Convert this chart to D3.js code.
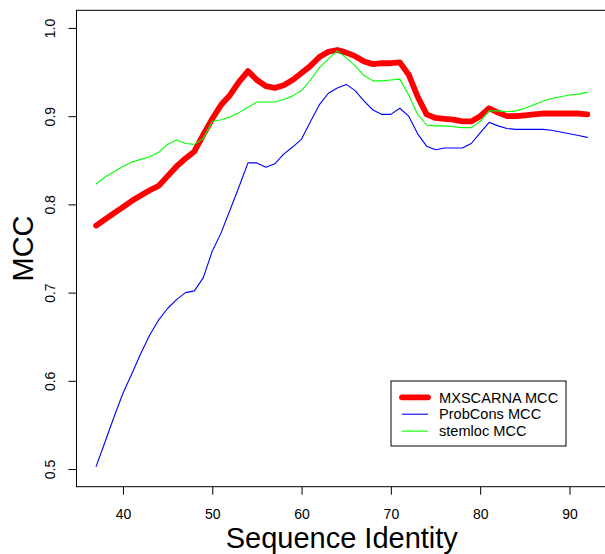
<!DOCTYPE html>
<html>
<head>
<meta charset="utf-8">
<script src="https://cdn.jsdelivr.net/npm/d3@7"></script>
<style>
  html, body { margin: 0; padding: 0; background: #fff; }
  svg { display: block; font-family: "Liberation Sans", Arial, sans-serif; }
</style>
</head>
<body>
<div id="chart"></div>
<script>
// sequence identity (x)
const identity = d3.range(37, 93);

const mxscarna = [
  0.776, 0.783, 0.790, 0.797, 0.804, 0.810, 0.816, 0.821, 0.832, 0.843,
  0.852, 0.860, 0.879, 0.897, 0.913, 0.924, 0.939, 0.951, 0.941, 0.934,
  0.932, 0.935, 0.941, 0.949, 0.957, 0.967, 0.973, 0.975, 0.972, 0.968,
  0.962, 0.959, 0.960, 0.960, 0.961, 0.947, 0.922, 0.902, 0.898, 0.897,
  0.896, 0.894, 0.894, 0.900, 0.909, 0.904, 0.900, 0.900, 0.901, 0.902,
  0.903, 0.903, 0.903, 0.903, 0.903, 0.902
];

const probcons = [
  0.503, 0.531, 0.559, 0.586, 0.608, 0.631, 0.652, 0.669, 0.682, 0.692,
  0.700, 0.702, 0.717, 0.747, 0.768, 0.794, 0.820, 0.847, 0.847, 0.842,
  0.846, 0.857, 0.865, 0.874, 0.894, 0.913, 0.926, 0.932, 0.936, 0.929,
  0.917, 0.907, 0.902, 0.902, 0.909, 0.900, 0.880, 0.866, 0.862, 0.864,
  0.864, 0.864, 0.869, 0.881, 0.893, 0.889, 0.886, 0.885, 0.885, 0.885,
  0.885, 0.884, 0.882, 0.880, 0.878, 0.876
];

const stemloc = [
  0.823, 0.831, 0.837, 0.843, 0.848, 0.851, 0.854, 0.859, 0.868, 0.873,
  0.869, 0.868, 0.875, 0.894, 0.896, 0.899, 0.904, 0.910, 0.916, 0.916,
  0.916, 0.919, 0.923, 0.929, 0.941, 0.955, 0.965, 0.974, 0.966, 0.957,
  0.946, 0.940, 0.940, 0.941, 0.942, 0.924, 0.902, 0.890, 0.889, 0.889,
  0.888, 0.887, 0.887, 0.894, 0.906, 0.906, 0.905, 0.906, 0.909, 0.913,
  0.917, 0.920, 0.922, 0.924, 0.925, 0.927
];

const xTicks = [40, 50, 60, 70, 80, 90];
const yTicks = [0.5, 0.6, 0.7, 0.8, 0.9, 1.0];

const series = [
  { name: "MXSCARNA MCC", values: mxscarna, color: "#ff0000", width: 5.8 },
  { name: "ProbCons MCC", values: probcons, color: "#0000ff", width: 1.1 },
  { name: "stemloc MCC", values: stemloc, color: "#00ff00", width: 1.1 }
];

const width = 605;
const height = 554;
const plot = { left: 76.5, right: 607, top: 10.3, bottom: 486.7 };

const x = d3.scaleLinear().domain([34.8, 94.2]).range([plot.left, plot.right]);
const y = d3.scaleLinear().domain([0.48, 1.02]).range([plot.bottom, plot.top]);

const svg = d3.select("#chart").append("svg")
  .attr("width", width)
  .attr("height", height);

const line = (vals) => d3.line()
  .x((d, i) => x(identity[i]))
  .y((d) => y(d))(vals);

// red drawn first, thin lines over it (as in the R plot)
svg.append("g")
  .selectAll("path")
  .data(series)
  .join("path")
  .attr("d", (d) => line(d.values))
  .attr("fill", "none")
  .attr("stroke", (d) => d.color)
  .attr("stroke-width", (d) => d.width)
  .attr("stroke-linejoin", "round")
  .attr("stroke-linecap", "round");

// plot box
svg.append("rect")
  .attr("x", plot.left)
  .attr("y", plot.top)
  .attr("width", plot.right - plot.left)
  .attr("height", plot.bottom - plot.top)
  .attr("fill", "none")
  .attr("stroke", "#000")
  .attr("stroke-width", 1);

// x axis
const xAxis = svg.append("g")
  .attr("transform", `translate(0,${plot.bottom})`)
  .call(d3.axisBottom(x).tickValues(xTicks).tickSize(8).tickPadding(14).tickFormat(d3.format("d")));
xAxis.select(".domain").remove();
xAxis.selectAll("text")
  .attr("font-size", 14)
  .attr("font-family", "Liberation Sans, Arial, sans-serif")
  .attr("fill", "#000");

// y axis, labels rotated like R
const yAxis = svg.append("g")
  .attr("transform", `translate(${plot.left},0)`)
  .call(d3.axisLeft(y).tickValues(yTicks).tickSize(8).tickFormat(d3.format(".1f")));
yAxis.select(".domain").remove();
yAxis.selectAll("text")
  .attr("x", null)
  .attr("dy", null)
  .attr("text-anchor", "middle")
  .attr("transform", "translate(-21.5,0) rotate(-90)")
  .attr("font-size", 14)
  .attr("font-family", "Liberation Sans, Arial, sans-serif")
  .attr("fill", "#000");

// axis titles
svg.append("text")
  .attr("x", (plot.left + plot.right) / 2)
  .attr("y", 548)
  .attr("text-anchor", "middle")
  .attr("font-size", 29)
  .text("Sequence Identity");

svg.append("text")
  .attr("transform", `translate(33.3,${(plot.top + plot.bottom) / 2}) rotate(-90)`)
  .attr("text-anchor", "middle")
  .attr("font-size", 29)
  .text("MCC");

// legend
const legend = svg.append("g");
legend.append("rect")
  .attr("x", 391)
  .attr("y", 381)
  .attr("width", 175)
  .attr("height", 65)
  .attr("fill", "#fff")
  .attr("stroke", "#000")
  .attr("stroke-width", 1);

const rows = legend.selectAll("g.row")
  .data(series)
  .join("g")
  .attr("class", "row")
  .attr("transform", (d, i) => `translate(0,${397.3 + i * 16.9})`);

rows.append("line")
  .attr("x1", 402)
  .attr("x2", 428)
  .attr("stroke", (d) => d.color)
  .attr("stroke-width", (d) => d.width)
  .attr("stroke-linecap", (d) => d.width > 2 ? "round" : "butt");

rows.append("text")
  .attr("x", 439)
  .attr("y", 5.2)
  .attr("font-size", 14.6)
  .text((d) => d.name);
</script>
</body>
</html>
